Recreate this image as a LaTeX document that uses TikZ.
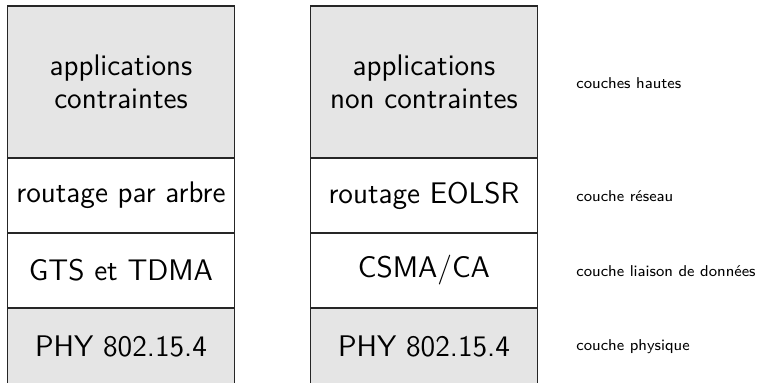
\documentclass[tikz,border=0pt]{standalone}
\usepackage{fontspec}
\begin{document}
\begin{tikzpicture}[x=0.5pt,y=-0.5pt,
  layer/.style={draw=black!85, line width=0.6pt, inner sep=0pt, align=center,
    minimum width=113.5pt, font=\sffamily\fontsize{14.9}{16.2}\selectfont},
  upper/.style={layer, fill=gray!20, minimum height=76pt},
  middle/.style={layer, fill=white, minimum height=37.5pt},
  lower/.style={layer, fill=gray!20, minimum height=38.5pt},
  tag/.style={anchor=west, inner sep=0pt, font=\sffamily\fontsize{7.85}{10}\selectfont}]
  \useasboundingbox (0,0) rectangle (760,383);
  \clip (0,0) rectangle (760,383);

  % left stack
  \node[upper]  (la) at (121,82)    {applications\\contraintes};
  \node[middle] (lr) at (121,195.5) {routage par arbre};
  \node[middle] (lm) at (121,270.5) {GTS et TDMA};
  \node[lower]  (lp) at (121,346.5) {PHY 802.15.4};

  % right stack
  \node[upper]  (ra) at (424,82)    {applications\\non contraintes};
  \node[middle] (rr) at (424,195.5) {routage EOLSR};
  \node[middle] (rm) at (424,270.5) {CSMA/CA};
  \node[lower]  (rp) at (424,346.5) {PHY 802.15.4};

  % layer names
  \node[tag] (th) at (576,83)  {couches hautes};
  \node[tag] (tr) at (576,196) {couche réseau};
  \node[tag] (tl) at (576,271) {couche liaison de données};
  \node[tag] (tp) at (576,347) {couche physique};
\end{tikzpicture}
\end{document}
